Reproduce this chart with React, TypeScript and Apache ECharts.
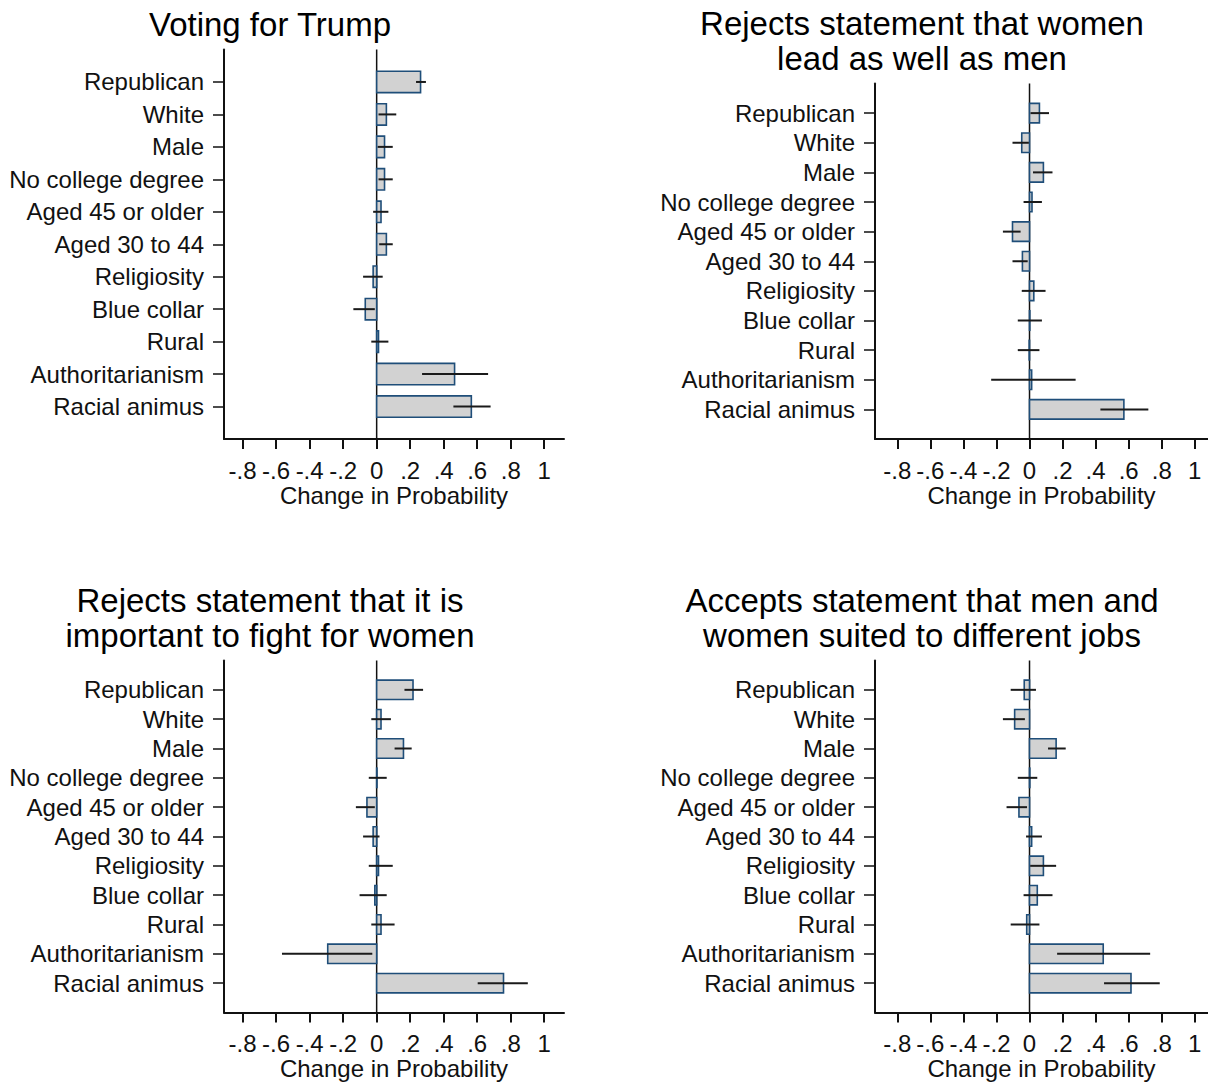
import React, { useEffect, useRef } from "react";
import * as echarts from "echarts";

const categories = [
  "Republican",
  "White",
  "Male",
  "No college degree",
  "Aged 45 or older",
  "Aged 30 to 44",
  "Religiosity",
  "Blue collar",
  "Rural",
  "Authoritarianism",
  "Racial animus",
];

const titleLines = [
  ["Voting for Trump"],
  ["Rejects statement that women", "lead as well as men"],
  ["Rejects statement that it is", "important to fight for women"],
  ["Accepts statement that men and", "women suited to different jobs"],
];

// Panel 1: Voting for Trump
const est1 = [0.262, 0.058, 0.047, 0.047, 0.026, 0.058, -0.021, -0.068, 0.011, 0.465, 0.565];
const lo1 = [0.235, 0.011, 0.006, 0.011, -0.021, 0.015, -0.081, -0.139, -0.032, 0.271, 0.458];
const hi1 = [0.294, 0.117, 0.096, 0.096, 0.07, 0.096, 0.036, -0.011, 0.07, 0.665, 0.68];

// Panel 2: women lead as well as men
const est2 = [0.06, -0.047, 0.084, 0.015, -0.103, -0.043, 0.026, 0.002, -0.002, 0.013, 0.571];
const lo2 = [0.006, -0.103, 0.021, -0.036, -0.161, -0.103, -0.047, -0.071, -0.071, -0.232, 0.429];
const hi2 = [0.118, -0.004, 0.139, 0.075, -0.054, -0.011, 0.097, 0.075, 0.06, 0.279, 0.719];

// Panel 3: important to fight for women
const est3 = [0.217, 0.026, 0.16, 0.002, -0.058, -0.021, 0.011, -0.011, 0.026, -0.292, 0.757];
const lo3 = [0.166, -0.032, 0.107, -0.047, -0.124, -0.081, -0.047, -0.102, -0.032, -0.565, 0.603];
const hi3 = [0.277, 0.085, 0.209, 0.06, -0.011, 0.017, 0.096, 0.06, 0.107, -0.026, 0.902];

// Panel 4: men and women suited to different jobs
const est4 = [-0.032, -0.09, 0.161, 0.002, -0.064, 0.013, 0.084, 0.047, -0.017, 0.446, 0.614];
const lo4 = [-0.114, -0.161, 0.112, -0.071, -0.139, -0.021, 0.004, -0.036, -0.114, 0.167, 0.451];
const hi4 = [0.039, -0.028, 0.219, 0.047, -0.015, 0.075, 0.161, 0.139, 0.06, 0.73, 0.788];

const xTickValues = [-0.8, -0.6, -0.4, -0.2, 0, 0.2, 0.4, 0.6, 0.8, 1];
const xAxisTitle = "Change in Probability";

const FONT = "'Liberation Sans', Arial, sans-serif";

const panels = [
  { est: est1, lo: lo1, hi: hi1, grid: { left: 224, top: 49.5, width: 340, height: 389.5 }, xr: [-0.911, 1.118], tx: 270, ty: 24 },
  { est: est2, lo: lo2, hi: hi2, grid: { left: 875, top: 83.5, width: 333, height: 355.5 }, xr: [-0.935, 1.08], tx: 922, ty: 40.5 },
  { est: est3, lo: lo3, hi: hi3, grid: { left: 224, top: 660.5, width: 340, height: 352 }, xr: [-0.911, 1.118], tx: 270, ty: 617.5 },
  { est: est4, lo: lo4, hi: hi4, grid: { left: 875, top: 660.5, width: 333, height: 352 }, xr: [-0.935, 1.08], tx: 922, ty: 617.5 },
];

const fmtTick = (v: number) => {
  const r = Math.round(v * 10) / 10;
  if (r === 0) return "0";
  if (r === 1) return "1";
  return String(r).replace("0.", ".");
};

export default function App() {
  const ref = useRef<HTMLDivElement>(null);
  useEffect(() => {
    if (!ref.current) return;
    const chart = echarts.init(ref.current, undefined, { renderer: "svg" });
    const catPositions = categories.map((_, i) => i + 1);

    const grids: any[] = [];
    const xAxes: any[] = [];
    const yAxes: any[] = [];
    const series: any[] = [];
    const graphics: any[] = [];

    panels.forEach((p, k) => {
      grids.push({ ...p.grid, containLabel: false });
      xAxes.push({
        type: "value",
        gridIndex: k,
        min: p.xr[0],
        max: p.xr[1],
        splitLine: { show: false },
        axisLine: { show: true, onZero: false, lineStyle: { color: "#111", width: 2 } },
        axisTick: { show: true, customValues: xTickValues, length: 10, lineStyle: { color: "#111", width: 2 } },
        axisLabel: {
          customValues: xTickValues,
          formatter: (v: number) => fmtTick(v),
          color: "#111",
          fontSize: 24,
          fontFamily: FONT,
          margin: 19,
        },
        name: xAxisTitle,
        nameLocation: "middle",
        nameGap: 44,
        nameTextStyle: { color: "#111", fontSize: 24, fontFamily: FONT },
      });
      yAxes.push({
        type: "value",
        gridIndex: k,
        inverse: true,
        min: 0,
        max: 12,
        splitLine: { show: false },
        axisLine: { show: true, onZero: false, lineStyle: { color: "#111", width: 2 } },
        axisTick: { show: true, customValues: catPositions, length: 11, lineStyle: { color: "#111", width: 1.5 } },
        axisLabel: {
          customValues: catPositions,
          formatter: (v: number) => categories[Math.round(v) - 1] ?? "",
          color: "#111",
          fontSize: 24,
          fontFamily: FONT,
          margin: 20,
        },
      });
      // zero line
      series.push({
        type: "line",
        xAxisIndex: k,
        yAxisIndex: k,
        data: [
          [0, 0],
          [0, 12],
        ],
        symbol: "none",
        silent: true,
        z: 1,
        lineStyle: { color: "#111", width: 1.5 },
      });
      const rows = categories.map((_, i) => [p.est[i], i + 1, p.lo[i], p.hi[i]]);
      series.push({
        type: "custom",
        xAxisIndex: k,
        yAxisIndex: k,
        z: 2,
        silent: true,
        encode: { x: 0, y: 1 },
        data: rows,
        renderItem: (params: any, api: any) => {
          const v = api.value(0);
          const y = api.value(1);
          const p0 = api.coord([0, y]);
          const p1 = api.coord([v, y]);
          const h = api.size([0, 1])[1] * 0.66;
          return {
            type: "rect",
            shape: {
              x: Math.min(p0[0], p1[0]),
              y: p0[1] - h / 2,
              width: Math.abs(p1[0] - p0[0]),
              height: h,
            },
            style: { fill: "#d2d2d2", stroke: "#1f4e79", lineWidth: 1.6 },
          };
        },
      });
      series.push({
        type: "custom",
        xAxisIndex: k,
        yAxisIndex: k,
        z: 3,
        silent: true,
        encode: { x: [2, 3], y: 1 },
        data: rows,
        renderItem: (params: any, api: any) => {
          const y = api.value(1);
          const a = api.coord([api.value(2), y]);
          const b = api.coord([api.value(3), y]);
          return {
            type: "line",
            shape: { x1: a[0], y1: a[1], x2: b[0], y2: b[1] },
            style: { stroke: "#1a1a1a", lineWidth: 2 },
          };
        },
      });
      graphics.push({
        type: "text",
        x: p.tx,
        y: p.ty,
        style: {
          text: titleLines[k].join("\n"),
          fill: "#000",
          font: `33px ${FONT}`,
          lineHeight: 35,
          textAlign: "center",
          textVerticalAlign: "middle",
        },
      });
    });

    chart.setOption({
      animation: false,
      backgroundColor: "#ffffff",
      grid: grids,
      xAxis: xAxes,
      yAxis: yAxes,
      series,
      graphic: graphics,
    });
    return () => chart.dispose();
  }, []);

  return (
    <div
      ref={ref}
      style={{ position: "absolute", left: 0, top: 0, width: 1208, height: 1086, background: "#fff" }}
    />
  );
}
